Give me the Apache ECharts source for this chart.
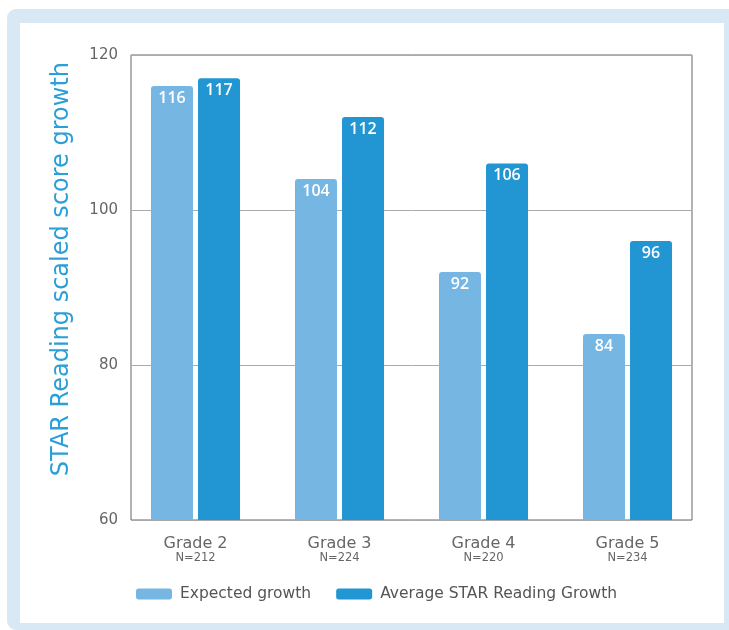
<!DOCTYPE html>
<html>
<head>
<meta charset="utf-8">
<script src="https://cdn.jsdelivr.net/npm/echarts@6/dist/echarts.min.js"></script>
<style>
html,body{margin:0;padding:0;background:#fff;}
#c{width:729px;height:630px;}
</style>
</head>
<body>
<div id="c"></div>
<script>
const grades = ['Grade 2', 'Grade 3', 'Grade 4', 'Grade 5'];
const sampleSizes = ['N=212', 'N=224', 'N=220', 'N=234'];
const expectedGrowth = [116, 104, 92, 84];
const averageGrowth = [117, 112, 106, 96];
const yTicks = [60, 80, 100, 120];
const seriesNames = ['Expected growth', 'Average STAR Reading Growth'];
const yTitle = 'STAR Reading scaled score growth';

const chart = echarts.init(document.getElementById('c'), null, {renderer: 'canvas'});
const font = '"DejaVu Sans", "Open Sans", sans-serif';
const labelFont = '"Open Sans", "Noto Sans", sans-serif';
const lightBlue = '#76b6e3';
const darkBlue = '#2196d3';
const yMin = yTicks[0], yMax = yTicks[yTicks.length - 1];

const option = {
  animation: false,
  backgroundColor: '#fff',
  textStyle: {fontFamily: font},
  graphic: [
    {type: 'rect', z: -10, silent: true,
     shape: {x: 7, y: 9, width: 740, height: 621, r: 9},
     style: {fill: '#d8e9f5'}},
    {type: 'rect', z: -9, silent: true,
     shape: {x: 20, y: 23, width: 704, height: 600},
     style: {fill: '#ffffff'}},
    {type: 'text', z: 10, silent: true,
     rotation: Math.PI / 2,
     left: 50, top: 62,
     style: {text: yTitle, fill: '#2a9fd8', font: '24px ' + font}}
  ],
  legend: {
    bottom: 28,
    left: 136,
    padding: 0,
    itemWidth: 36,
    itemHeight: 11,
    itemGap: 25,
    icon: 'roundRect',
    textStyle: {color: '#555', fontSize: 15.5, fontFamily: font, padding: [0, 0, 0, 3]},
    data: seriesNames
  },
  grid: [
    {left: 131, top: 55, width: 561, height: 465, show: true,
     borderColor: '#666', borderWidth: 1, backgroundColor: 'transparent'},
    {left: 123.5, top: 55, width: 576, height: 465, show: false}
  ],
  xAxis: [
    {type: 'category', gridIndex: 0, data: grades, show: false},
    {
      type: 'category', gridIndex: 1,
      data: grades,
      axisLine: {show: false},
      axisTick: {show: false},
      axisLabel: {
        margin: 15,
        formatter: function (v, i) {
          return '{g|' + v + '}\n{n|' + sampleSizes[i] + '}';
        },
        rich: {
          g: {color: '#666', fontSize: 16, lineHeight: 17, fontFamily: font},
          n: {color: '#666', fontSize: 11.5, lineHeight: 13, fontFamily: font}
        }
      }
    }
  ],
  yAxis: [
    {
      type: 'value', gridIndex: 0,
      min: yMin, max: yMax, interval: 20,
      axisLine: {show: false},
      axisTick: {show: false},
      splitLine: {lineStyle: {color: '#aaa', width: 1}},
      axisLabel: {color: '#666', fontSize: 15, margin: 13, fontFamily: font}
    },
    {
      type: 'value', gridIndex: 1, show: false,
      min: yMin, max: yMax, interval: 20,
      splitLine: {show: false}
    }
  ],
  series: [
    {
      name: seriesNames[0], type: 'bar', data: expectedGrowth,
      xAxisIndex: 1, yAxisIndex: 1,
      barWidth: 42, barGap: '12%',
      itemStyle: {color: lightBlue, borderRadius: [3, 3, 0, 0]},
      label: {show: true, position: 'insideTop', distance: 4,
              color: '#fff', fontSize: 16, fontWeight: 600, fontFamily: labelFont}
    },
    {
      name: seriesNames[1], type: 'bar', data: averageGrowth,
      xAxisIndex: 1, yAxisIndex: 1,
      barWidth: 42,
      itemStyle: {color: darkBlue, borderRadius: [3, 3, 0, 0]},
      label: {show: true, position: 'insideTop', distance: 4,
              color: '#fff', fontSize: 16, fontWeight: 600, fontFamily: labelFont}
    }
  ]
};
chart.setOption(option);
</script>
</body>
</html>
